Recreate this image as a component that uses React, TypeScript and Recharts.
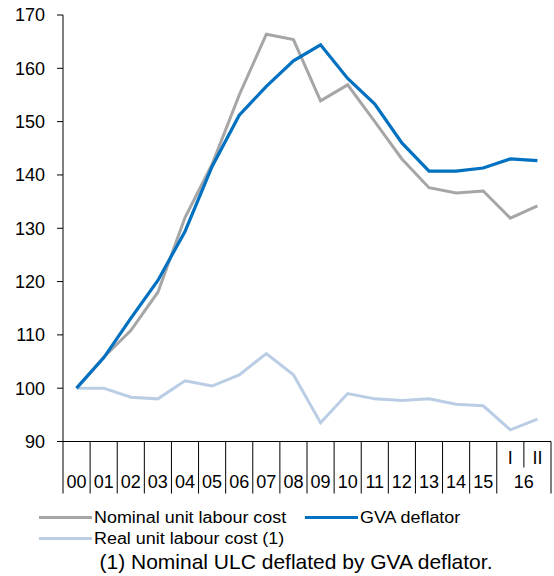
import { LineChart, Line, XAxis, YAxis } from 'recharts';

const years = ['00', '01', '02', '03', '04', '05', '06', '07', '08', '09', '10', '11', '12', '13', '14', '15'];
const quarters = ['I', 'II'];
const quarterYear = '16';
const categories = [...years, ...quarters];

const nominalUlc = [100, 105.8, 110.8, 118, 132, 142, 155, 166.4, 165.4, 153.9, 156.9, 150, 143, 137.6, 136.6, 137, 131.9, 134.2];
const gvaDeflator = [100, 105.7, 113.1, 120.2, 129.4, 141.6, 151.2, 156.6, 161.4, 164.4, 158.1, 153.3, 146, 140.7, 140.7, 141.3, 143, 142.7];
const realUlc = [100, 100, 98.3, 98, 101.4, 100.4, 102.5, 106.5, 102.5, 93.5, 99, 98, 97.7, 98, 97, 96.7, 92.2, 94.2];

const yTicks = [90, 100, 110, 120, 130, 140, 150, 160, 170];

const data = categories.map((cat, i) => ({
  cat,
  nominal: nominalUlc[i],
  gva: gvaDeflator[i],
  real: realUlc[i],
}));

const WIDTH = 554;
const HEIGHT = 500;
const Y_AXIS_W = 63;
const RIGHT = 3;
const BAND = (WIDTH - Y_AXIS_W - RIGHT) / categories.length;
const FONT = '"Liberation Sans", Arial, sans-serif';

const GRAY = '#A6A6A6';
const BLUE = '#0070C0';
const LIGHT = '#B9CDE5';

// boundaries between categories, long ones for years, a short one between quarters
const XTick = (props: any) => {
  const { x, y, payload, index } = props;
  const left = x - BAND / 2;
  const right = x + BAND / 2;
  const isQuarter = index >= years.length;
  const isLast = index === categories.length - 1;
  const leftLen = index === years.length + 1 ? 26 : 52;
  return (
    <g>
      <line x1={left} x2={left} y1={y} y2={y + leftLen} stroke="#000" />
      {isLast && <line x1={right} x2={right} y1={y} y2={y + 52} stroke="#000" />}
      <text
        x={x}
        y={isQuarter ? y + 22 : y + 46}
        textAnchor="middle"
        fontSize={18}
        fill="#000"
        fontFamily={FONT}
      >
        {payload.value}
      </text>
      {isLast && (
        <text x={left} y={y + 46} textAnchor="middle" fontSize={18} fill="#000" fontFamily={FONT}>
          {quarterYear}
        </text>
      )}
    </g>
  );
};

const LegendItem = ({ color, label, width }: { color: string; label: string; width?: number }) => (
  <div style={{ display: 'flex', alignItems: 'center', width, height: 21 }}>
    <span style={{ display: 'inline-block', width: 53, height: 3, background: color, marginRight: 2 }} />
    <span style={{ display: 'inline-block', lineHeight: '21px', transform: 'scaleX(1.12)', transformOrigin: 'left center' }}>
      {label}
    </span>
  </div>
);

export default function App() {
  return (
    <div style={{ position: 'absolute', left: 0, top: 0, width: WIDTH, height: 576, fontFamily: FONT, color: '#000' }}>
      <LineChart width={WIDTH} height={HEIGHT} data={data} margin={{ top: 15, right: RIGHT, bottom: 0, left: 0 }}>
        <XAxis
          dataKey="cat"
          scale="band"
          interval={0}
          tickLine={false}
          tickSize={0}
          tickMargin={0}
          height={HEIGHT - 15 - 426.5}
          axisLine={{ stroke: '#000' }}
          tick={<XTick />}
        />
        <YAxis
          width={Y_AXIS_W}
          domain={[90, 170]}
          ticks={yTicks}
          interval={0}
          tickSize={6}
          tickMargin={12}
          axisLine={{ stroke: '#000' }}
          tickLine={{ stroke: '#000' }}
          tick={{ fill: '#000', fontSize: 18, fontFamily: FONT }}
        />
        <Line dataKey="real" stroke={LIGHT} strokeWidth={3} dot={false} isAnimationActive={false} />
        <Line dataKey="nominal" stroke={GRAY} strokeWidth={3} dot={false} isAnimationActive={false} />
        <Line dataKey="gva" stroke={BLUE} strokeWidth={3.2} dot={false} isAnimationActive={false} />
      </LineChart>
      <div style={{ position: 'absolute', left: 39, top: 507, fontSize: 16 }}>
        <div style={{ display: 'flex' }}>
          <LegendItem color={GRAY} label="Nominal unit labour cost" width={266} />
          <LegendItem color={BLUE} label="GVA deflator" />
        </div>
        <LegendItem color={LIGHT} label="Real unit labour cost (1)" />
      </div>
      <div style={{ position: 'absolute', left: 0, width: 592, top: 549, fontSize: 21, lineHeight: '26px', textAlign: 'center' }}>
        (1) Nominal ULC deflated by GVA deflator.
      </div>
    </div>
  );
}
